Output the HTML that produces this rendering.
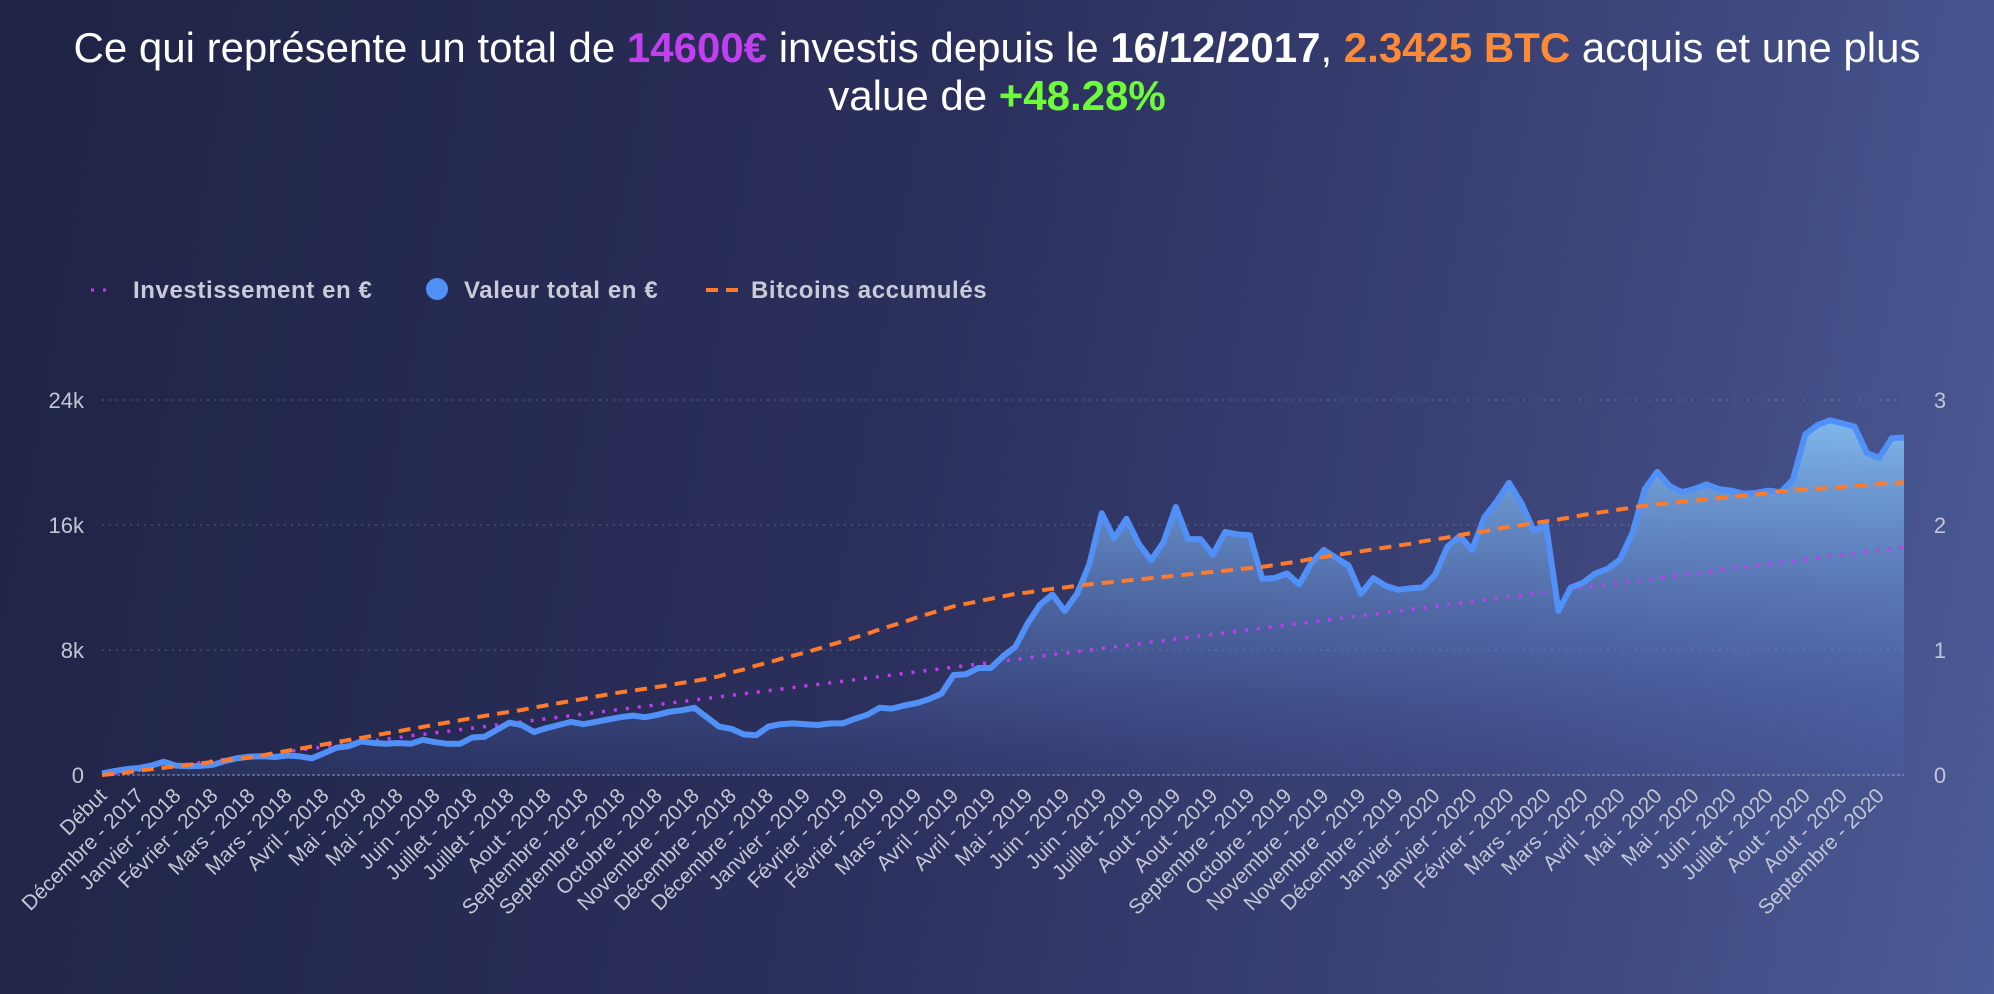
<!DOCTYPE html>
<html><head><meta charset="utf-8">
<style>
html,body{margin:0;padding:0}
body{width:1994px;height:994px;overflow:hidden;background:linear-gradient(100deg,#1f2445 0%,#2b2f5c 45%,#3c4479 75%,#4b5b97 100%);font-family:"Liberation Sans",sans-serif;position:relative}
#title{position:absolute;left:0;top:24px;width:1994px;text-align:center;color:#fff;font-size:42px;line-height:48px}
#title b{font-weight:bold}
svg{position:absolute;left:0;top:0}
</style></head><body>
<div id="title">Ce qui représente un total de <b style="color:#c23ff0">14600€</b> investis depuis le <b>16/12/2017</b>, <b style="color:#ff8a35">2.3425 BTC</b> acquis et une plus<br>value de <b style="color:#6dfb3a">+48.28%</b></div>
<svg id="chart" width="1994" height="994">
<defs>
<linearGradient id="areaGrad" x1="0" y1="0" x2="0" y2="1">
<stop offset="0" stop-color="#82bdf0" stop-opacity="0.95"/>
<stop offset="1" stop-color="#4a64b8" stop-opacity="0.15"/>
</linearGradient>
</defs>
<g id="legend">
<g>
<line x1="91" y1="290" x2="112" y2="290" stroke="#c03cf0" stroke-width="3" stroke-dasharray="3 9"/>
<text x="133" y="298" fill="#c9ccd8" font-size="24" font-weight="bold" letter-spacing="0.6">Investissement en €</text></g>
<g>
<circle cx="437" cy="289" r="11" fill="#5190f7"/>
<text x="464" y="298" fill="#c9ccd8" font-size="24" font-weight="bold" letter-spacing="0.6">Valeur total en €</text></g>
<g>
<line x1="706" y1="290" x2="740" y2="290" stroke="#ff7a2a" stroke-width="4" stroke-dasharray="12 8"/>
<text x="751" y="298" fill="#c9ccd8" font-size="24" font-weight="bold" letter-spacing="0.6">Bitcoins accumulés</text></g>
</g>
<g id="grid"></g><g id="axes"></g><g id="series"></g><g id="xlabels"></g>
</svg>
<script>
const leftTicks=[0,8000,16000,24000];
const leftTickLabels=["0","8k","16k","24k"];
const rightTicks=[0,1,2,3];
const rightTickLabels=["0","1","2","3"];
const xLabels=["Début","Décembre - 2017","Janvier - 2018","Février - 2018","Mars - 2018","Mars - 2018","Avril - 2018","Mai - 2018","Mai - 2018","Juin - 2018","Juillet - 2018","Juillet - 2018","Aout - 2018","Septembre - 2018","Septembre - 2018","Octobre - 2018","Novembre - 2018","Décembre - 2018","Décembre - 2018","Janvier - 2019","Février - 2019","Février - 2019","Mars - 2019","Avril - 2019","Avril - 2019","Mai - 2019","Juin - 2019","Juin - 2019","Juillet - 2019","Aout - 2019","Aout - 2019","Septembre - 2019","Octobre - 2019","Novembre - 2019","Novembre - 2019","Décembre - 2019","Janvier - 2020","Janvier - 2020","Février - 2020","Mars - 2020","Mars - 2020","Avril - 2020","Mai - 2020","Mai - 2020","Juin - 2020","Juillet - 2020","Aout - 2020","Aout - 2020","Septembre - 2020"];
const invested=[0,100,200,300,400,500,600,700,800,900,1000,1100,1200,1300,1400,1500,1600,1700,1800,1900,2000,2100,2200,2300,2400,2500,2600,2700,2800,2900,3000,3100,3200,3300,3400,3500,3600,3700,3800,3900,4000,4100,4200,4300,4400,4500,4600,4700,4800,4900,5000,5100,5200,5300,5400,5500,5600,5700,5800,5900,6000,6100,6200,6300,6400,6500,6600,6700,6800,6900,7000,7100,7200,7300,7400,7500,7600,7700,7800,7900,8000,8100,8200,8300,8400,8500,8600,8700,8800,8900,9000,9100,9200,9300,9400,9500,9600,9700,9800,9900,10000,10100,10200,10300,10400,10500,10600,10700,10800,10900,11000,11100,11200,11300,11400,11500,11600,11700,11800,11900,12000,12100,12200,12300,12400,12500,12600,12700,12800,12900,13000,13100,13200,13300,13400,13500,13600,13700,13800,13900,14000,14100,14200,14300,14400,14500,14600];
const totalValue=[100,250,380,450,600,850,600,560,580,650,900,1080,1180,1200,1150,1250,1200,1070,1400,1750,1850,2150,2050,2000,2050,2000,2250,2100,2000,2000,2400,2450,2900,3350,3200,2750,3000,3200,3400,3250,3400,3550,3700,3800,3700,3850,4050,4150,4300,3700,3100,2950,2600,2550,3100,3250,3300,3250,3200,3300,3300,3600,3850,4300,4250,4450,4600,4850,5200,6400,6450,6850,6850,7600,8200,9700,10900,11550,10500,11600,13500,16750,15150,16400,14800,13750,14900,17150,15100,15100,14100,15550,15400,15350,12550,12600,12900,12200,13600,14400,13900,13400,11600,12600,12100,11850,11950,12000,12800,14600,15300,14400,16500,17500,18700,17400,15650,16000,10500,12000,12300,12900,13200,13800,15500,18300,19400,18500,18100,18300,18600,18300,18200,18000,18050,18200,18100,18900,21800,22400,22700,22500,22300,20600,20300,21550,21600];
const btc=[0,0.01,0.02,0.035,0.047,0.058,0.07,0.082,0.093,0.105,0.117,0.128,0.14,0.158,0.175,0.193,0.21,0.228,0.245,0.263,0.28,0.298,0.315,0.333,0.35,0.368,0.385,0.403,0.42,0.438,0.455,0.473,0.49,0.505,0.52,0.54,0.557,0.575,0.592,0.61,0.627,0.645,0.662,0.675,0.69,0.705,0.72,0.737,0.752,0.77,0.79,0.82,0.845,0.875,0.9,0.93,0.955,0.98,1.01,1.04,1.07,1.1,1.13,1.165,1.195,1.225,1.26,1.29,1.32,1.35,1.37,1.39,1.41,1.43,1.45,1.46,1.475,1.49,1.5,1.515,1.525,1.535,1.545,1.555,1.565,1.575,1.585,1.595,1.605,1.615,1.625,1.635,1.645,1.655,1.665,1.68,1.695,1.71,1.73,1.745,1.76,1.775,1.79,1.805,1.82,1.835,1.85,1.87,1.885,1.9,1.92,1.935,1.95,1.97,1.985,2.0,2.015,2.03,2.045,2.06,2.08,2.095,2.11,2.125,2.14,2.155,2.165,2.175,2.185,2.195,2.205,2.215,2.225,2.235,2.245,2.255,2.268,2.275,2.283,2.29,2.297,2.305,2.312,2.32,2.327,2.335,2.3425];
const labelEvery=3;

const NS="http://www.w3.org/2000/svg";
const X0=102,X1=1904,Y0=775,Y1=400;
const nPts=totalValue.length;
function x(i){return X0+(X1-X0)*i/(nPts-1);}
function yL(v){return Y0-(Y0-Y1)*v/24000;}
function yR(v){return Y0-(Y0-Y1)*v/3;}
function mk(tag,attrs,parent){const e=document.createElementNS(NS,tag);for(const k in attrs)e.setAttribute(k,attrs[k]);parent.appendChild(e);return e;}
const grid=document.getElementById('grid'),axes=document.getElementById('axes'),series=document.getElementById('series'),xl=document.getElementById('xlabels');
leftTicks.forEach((t,k)=>{
  const y=yL(t);
  const ln=mk('line',{x1:X0,x2:X1,y1:y,y2:y,stroke:t===0?'rgba(200,205,225,0.35)':'rgba(200,205,225,0.22)','stroke-width':t===0?2:1.5,'stroke-dasharray':t===0?'3 2':'2 5'},grid);
  
  
  const tx=mk('text',{x:84,y:y+8,'text-anchor':'end',fill:'#c3c6d3','font-size':22},axes);
  tx.textContent=leftTickLabels[k];
  
  
});
rightTicks.forEach((t,k)=>{
  const tx=mk('text',{x:1940,y:yR(t)+8,'text-anchor':'middle',fill:'#c3c6d3','font-size':22},axes);
  tx.textContent=rightTickLabels[k];
  
  
});
let d='';totalValue.forEach((v,i)=>{d+=(i?'L':'M')+x(i).toFixed(1)+' '+yL(v).toFixed(1);});
const area=mk('path',{d:d+'L'+x(nPts-1)+' '+Y0+'L'+X0+' '+Y0+'Z',fill:'url(#areaGrad)'},series);


let di='';invested.forEach((v,i)=>{di+=(i?'L':'M')+x(i).toFixed(1)+' '+yL(v).toFixed(1);});
const inv=mk('path',{d:di,fill:'none',stroke:'#c03cf0','stroke-width':3.5,'stroke-dasharray':'3 9'},series);


const val=mk('path',{d:d,fill:'none',stroke:'#5190f7','stroke-width':6,'stroke-linejoin':'round'},series);


let db='';btc.forEach((v,i)=>{db+=(i?'L':'M')+x(i).toFixed(1)+' '+yR(v).toFixed(1);});
const bl=mk('path',{d:db,fill:'none',stroke:'#ff7a2a','stroke-width':4,'stroke-dasharray':'12 8'},series);


xLabels.forEach((lab,k)=>{
  const px=x(k*labelEvery)+6, py=797;
  const t=mk('text',{x:px,y:py,'text-anchor':'end',fill:'#c3c6d3','font-size':21,transform:'rotate(-45 '+px+' '+py+')'},xl);
  t.textContent=lab;
  
  
});
</script>
</body></html>
